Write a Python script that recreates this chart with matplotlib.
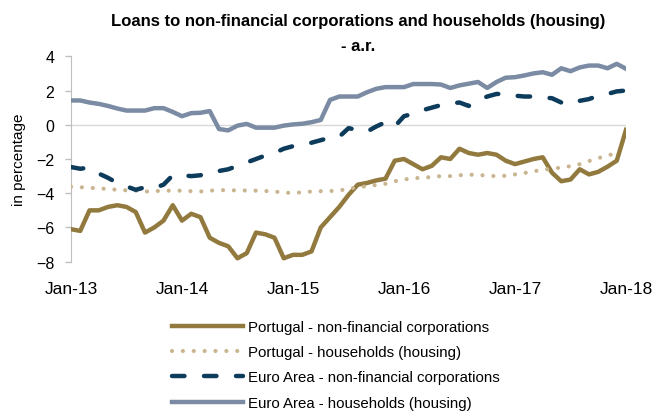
import matplotlib.pyplot as plt
import numpy as np

# Monthly data, Jan-13 .. Jan-18 (year-on-year rate of change, %)
months = np.arange(61)
tick_months = [0, 12, 24, 36, 48, 60]
tick_labels = ["Jan-13", "Jan-14", "Jan-15", "Jan-16", "Jan-17", "Jan-18"]

pt_nfc = [-6.1, -6.2, -5.0, -5.0, -4.8, -4.7, -4.8, -5.1, -6.3, -6.0,
          -5.6, -4.7, -5.6, -5.2, -5.4, -6.6, -6.9, -7.1, -7.8, -7.5,
          -6.3, -6.4, -6.6, -7.8, -7.6, -7.6, -7.4, -6.0, -5.4, -4.8,
          -4.1, -3.5, -3.4, -3.25, -3.15, -2.1, -2.0, -2.3, -2.6, -2.4,
          -1.9, -2.0, -1.4, -1.65, -1.75, -1.65, -1.75, -2.1, -2.3, -2.15,
          -2.0, -1.9, -2.8, -3.3, -3.2, -2.6, -2.9, -2.75, -2.45, -2.1,
          -0.3]

# households series ends one month earlier (Dec-17)
pt_hh = [-3.62, -3.65, -3.68, -3.72, -3.75, -3.8, -3.83, -3.85, -3.9, -3.88,
         -3.85, -3.85, -3.85, -3.88, -3.9, -3.85, -3.82, -3.82, -3.84, -3.84,
         -3.85, -3.87, -3.9, -3.97, -3.98, -3.95, -3.9, -3.88, -3.87, -3.85,
         -3.72, -3.67, -3.58, -3.52, -3.45, -3.3, -3.2, -3.12, -3.1, -3.05,
         -3.0, -3.0, -2.95, -2.92, -2.92, -2.98, -3.0, -2.98, -2.9, -2.82,
         -2.72, -2.63, -2.57, -2.5, -2.42, -2.3, -2.12, -1.95, -1.8, -1.65]

ea_nfc = [-2.47, -2.57, -2.5, -2.85, -3.1, -3.4, -3.6, -3.8, -3.65, -3.7,
          -3.5, -2.95, -2.95, -3.0, -2.95, -2.75, -2.7, -2.6, -2.4, -2.2,
          -2.0, -1.8, -1.65, -1.4, -1.25, -1.15, -1.05, -0.9, -0.75, -0.7,
          -0.2, -0.3, -0.4, -0.1, 0.15, -0.1, 0.5, 0.65, 0.85, 1.0,
          1.15, 1.25, 1.3, 1.1, 1.45, 1.65, 1.8, 1.8, 1.7, 1.65,
          1.65, 1.6, 1.55, 1.3, 1.2, 1.4, 1.5, 1.7, 1.8, 1.95,
          2.0]

ea_hh = [1.42, 1.42, 1.3, 1.22, 1.1, 0.95, 0.83, 0.83, 0.83, 0.97,
         0.97, 0.75, 0.5, 0.68, 0.7, 0.8, -0.25, -0.33, -0.05, 0.05,
         -0.17, -0.17, -0.17, -0.05, 0.02, 0.06, 0.15, 0.28, 1.45, 1.65,
         1.65, 1.65, 1.9, 2.1, 2.2, 2.2, 2.2, 2.38, 2.38, 2.38,
         2.35, 2.15, 2.3, 2.4, 2.5, 2.15, 2.5, 2.75, 2.78, 2.88,
         3.0, 3.07, 2.92, 3.3, 3.13, 3.35, 3.46, 3.46, 3.3, 3.56,
         3.27]

plt.rcParams['font.family'] = ['Liberation Sans', 'DejaVu Sans']

fig = plt.figure(figsize=(6.54, 4.14), dpi=100)
ax = fig.add_axes([71 / 654, 1 - 262.7 / 414, (626 - 71) / 654, (262.7 - 57.3) / 414])

ax.axhline(0, color="#D9D9D9", linewidth=1, zorder=1)

ax.plot(months, pt_nfc, color="#927A3F", linewidth=3.2,
        solid_joinstyle="round", label="Portugal - non-financial corporations", zorder=3)
ax.plot(months[:len(pt_hh)], pt_hh, color="#C9B590", linewidth=3.0,
        linestyle=(0, (0.01, 2.6)), dash_capstyle="round",
        label="Portugal - households (housing)", zorder=3)
ax.plot(months, ea_nfc, color="#0D3B5B", linewidth=3.2,
        linestyle=(0, (2.8, 4.4)), dash_capstyle="round",
        label="Euro Area - non-financial corporations", zorder=3)
ax.plot(months, ea_hh, color="#7B8BA3", linewidth=3.2,
        solid_joinstyle="round", label="Euro Area - households (housing)", zorder=3)

ax.set_xlim(0, 60)
ax.set_ylim(-8, 4)
ax.set_yticks(np.arange(-8, 5, 2))
ax.set_xticks(tick_months)
ax.set_xticklabels(tick_labels)

for s in ["top", "right", "bottom"]:
    ax.spines[s].set_visible(False)
ax.spines["left"].set_color("#BFBFBF")

ax.tick_params(axis="y", colors="#BFBFBF", length=4, width=1, pad=8,
               labelcolor="black", labelsize=11.5)
ax.tick_params(axis="x", length=0, pad=14, labelsize=12.5)
ax.set_ylabel("in percentage", fontsize=11, labelpad=7)

fig.text(358 / 654, 1 - 14 / 414,
         "Loans to non-financial corporations and households (housing)\n- a.r.",
         ha="center", va="top", fontsize=12, fontweight="bold", linespacing=1.85)

fig.legend(loc="upper left", bbox_to_anchor=(172 / 654, 1 - 321 / 414),
           frameon=False, fontsize=10.8, handlelength=4.7, handletextpad=0.4,
           labelspacing=0.75, borderpad=0, borderaxespad=0)

fig.savefig("out.png", dpi=100)
